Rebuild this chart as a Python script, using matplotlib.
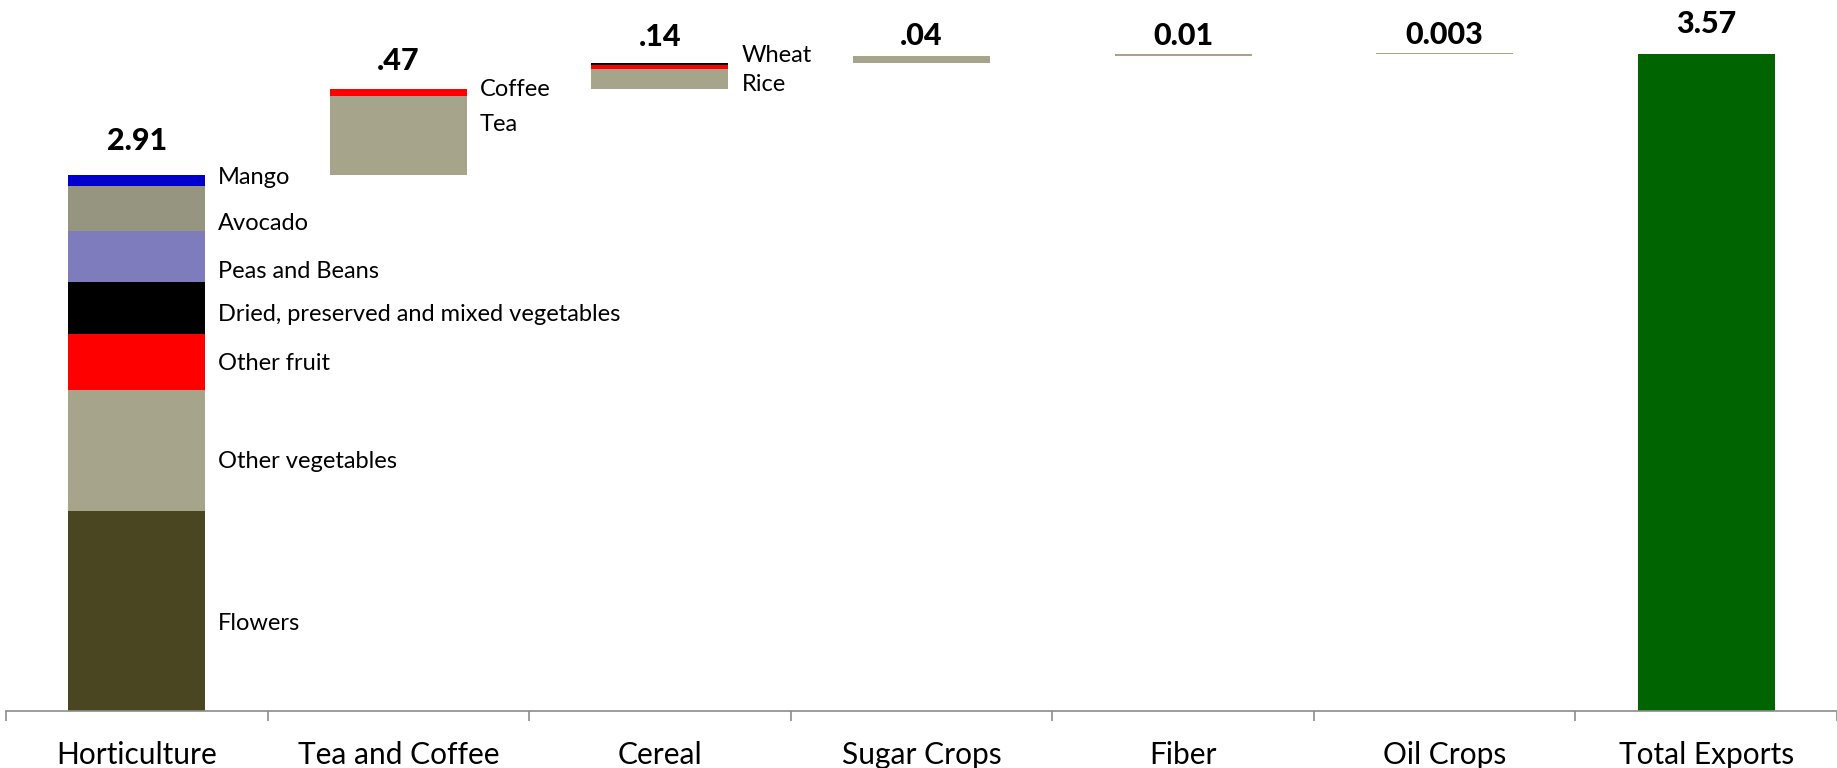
import matplotlib
matplotlib.use('Agg')
import matplotlib.pyplot as plt
import numpy as np

plt.rcParams['font.family'] = ['Lato', 'DejaVu Sans']

# Export value by product group (waterfall steps, bottom segment first)
categories = ['Horticulture', 'Tea and Coffee', 'Cereal', 'Sugar Crops',
              'Fiber', 'Oil Crops', 'Total Exports']

horti_items = ['Flowers', 'Other vegetables', 'Other fruit',
               'Dried, preserved and mixed vegetables', 'Peas and Beans',
               'Avocado', 'Mango']
horti_values = [1.085, 0.66, 0.30, 0.285, 0.28, 0.24, 0.06]

tea_items = ['Tea', 'Coffee']
tea_values = [0.43, 0.04]

cereal_items = ['Rice', 'Wheat', None]
cereal_values = [0.11, 0.02, 0.01]

sugar_values = [0.04]
fiber_values = [0.01]
oil_values = [0.003]

total_exports = 3.57

value_labels = ['2.91', '.47', '.14', '.04', '0.01', '0.003', '3.57']

# colours
GREY = '#A6A48A'
horti_colors = ['#4A4621', GREY, '#FF0000', '#000000', '#7F7CBD', '#96957F', '#0000CC']
tea_colors = [GREY, '#FF0000']
cereal_colors = [GREY, '#FF0000', '#000000']

# label nudges in pixels (positive = down)
horti_dy = [13, 11, 1, 6, 15, 15, -3]
tea_dy = [-11, -3]
cereal_dy = [6, -11, 0]
value_gap = [25, 19, 17, 11, 9, 9, 21]

fig = plt.figure(figsize=(18.37, 7.68), dpi=100)
ax = fig.add_axes([6 / 1837, 57.5 / 768, 1831 / 1837, 710.5 / 768])

width = 0.524
px = 0.72  # points per pixel at 100 dpi

groups = [
    (horti_items, horti_values, horti_colors, horti_dy),
    (tea_items, tea_values, tea_colors, tea_dy),
    (cereal_items, cereal_values, cereal_colors, cereal_dy),
    ([None], sugar_values, [GREY], [0]),
    ([None], fiber_values, [GREY], [0]),
    ([None], oil_values, [GREY], [0]),
]

base = 0.0
tops = []
for i, (items, vals, cols, dys) in enumerate(groups):
    bottoms = base + np.concatenate([[0], np.cumsum(vals)[:-1]])
    ax.bar([i] * len(vals), vals, width, bottom=bottoms, color=cols, linewidth=0)
    for name, v, b, dy in zip(items, vals, bottoms, dys):
        if name is None:
            continue
        ax.annotate(name, xy=(i + width / 2, b + v / 2), xytext=(13 * px, -dy * px),
                    textcoords='offset points', va='center', ha='left', fontsize=17)
    base += sum(vals)
    tops.append(base)

ax.bar(6, total_exports, width, color='#006400', linewidth=0)
tops.append(total_exports)

for i, (lab, top) in enumerate(zip(value_labels, tops)):
    ax.annotate(lab, xy=(i, top), xytext=(0, value_gap[i] * px), textcoords='offset points',
                ha='center', va='baseline', fontsize=22, fontweight='black')

ax.set_xlim(-0.5, 6.5)
ax.set_ylim(0, 710.5 / 183.9)

for s in ['top', 'right', 'left']:
    ax.spines[s].set_visible(False)
ax.spines['bottom'].set_color('#8C8C8C')
ax.spines['bottom'].set_linewidth(1.2)

ax.set_yticks([])
ax.set_xticks(range(len(categories)))
ax.set_xticklabels(categories, fontsize=21.5)
ax.set_xticks(np.arange(-0.5, 7, 1), minor=True)
ax.tick_params(axis='x', which='major', length=0, pad=22)
ax.tick_params(axis='x', which='minor', length=7.2, width=1.2, color='#8C8C8C')

fig.savefig('out.png', dpi=100)
